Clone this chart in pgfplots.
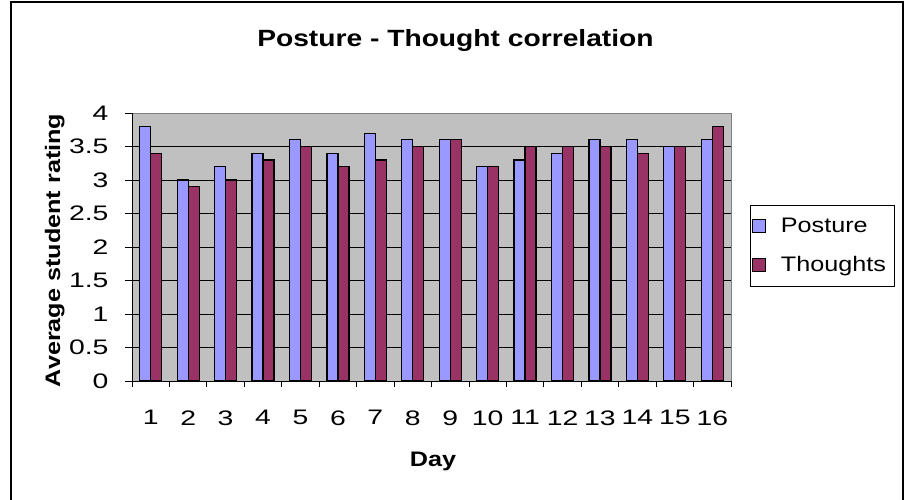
\documentclass[border=0pt]{standalone}
\usepackage{fontspec}
\setmainfont{Liberation Sans}[FakeStretch=1.2]
\newfontfamily\tickfont{Liberation Sans}[FakeStretch=1.35]
\usepackage{pgfplots}
\pgfplotsset{compat=1.18}
\definecolor{posture}{HTML}{9999FF}
\definecolor{thoughts}{HTML}{993366}
\definecolor{plotbg}{HTML}{C0C0C0}
\definecolor{bordergray}{HTML}{808080}
\pgfplotstableread{
day posture thoughts
1 3.8 3.4
2 3.0 2.9
3 3.2 3.0
4 3.4 3.3
5 3.6 3.5
6 3.4 3.2
7 3.7 3.3
8 3.6 3.5
9 3.6 3.6
10 3.2 3.2
11 3.3 3.5
12 3.4 3.5
13 3.6 3.5
14 3.6 3.4
15 3.5 3.5
16 3.6 3.8
}\datatable
\begin{document}
\begin{tikzpicture}
\useasboundingbox (0,0) rectangle (909bp,500bp);
\draw[line width=2bp] (11bp,-10bp) -- (11bp,497.5bp) -- (903bp,497.5bp) -- (903bp,-10bp);
\begin{axis}[
  at={(132bp,119bp)}, anchor=south west,
  scale only axis, width=599bp, height=268bp,
  xmin=0.5, xmax=16.5, ymin=0, ymax=4,
  ybar=0pt, bar width=11bp,
  xtick={1,...,16}, minor xtick={0.5,1.5,...,16.5},
  ytick={0,0.5,...,4},
  major x tick style={draw=none},
  tick align=outside, major tick length=7bp, minor tick length=6bp,
  tick style={black, line width=0.8bp},
  tick pos=left,
  ymajorgrids, grid style={black, line width=0.8bp},
  axis background/.style={fill=plotbg},
  axis line style={draw=none},
  clip=false,
  /pgf/number format/assume math mode=true,
  ticklabel style={font=\tickfont\fontsize{21bp}{25bp}\selectfont},
  xticklabel style={anchor=north, yshift=-19bp},
  yticklabel shift=13bp,
  title={Posture - Thought correlation},
  title style={at={(axis description cs:0.540,1.226)}, anchor=base, yshift=0pt, font=\bfseries\fontsize{23.5bp}{28bp}\selectfont},
  xlabel={Day},
  xlabel style={at={(axis description cs:0.5025,-0.320)}, anchor=base, font=\bfseries\fontsize{21bp}{25bp}\selectfont},
  ylabel={Average student rating},
  ylabel style={at={(axis description cs:-0.1202,0.487)}, anchor=base, font=\bfseries\fontsize{21bp}{25bp}\selectfont},
  legend style={at={(axis description cs:1.0317,0.657)}, anchor=north west, draw=black, line width=0.8bp, fill=white,
    font=\fontsize{21bp}{24bp}\selectfont, row sep=19bp, inner xsep=2bp, inner ysep=10.5bp,
    nodes={inner xsep=6bp}},
  legend cell align=left,
  legend image code/.code={\draw[#1, line width=1bp] (0bp,-6.5bp) rectangle (13bp,6.5bp); \path[draw=none, fill=none] (0bp,0bp) -- (22bp,0bp);},
]
\addplot[fill=posture, draw=black, line width=1.2bp] table[x=day, y=posture] {\datatable};
\addplot[fill=thoughts, draw=black, line width=1.2bp] table[x=day, y=thoughts] {\datatable};
\legend{Posture, Thoughts}
\draw[bordergray, line width=0.8bp] (rel axis cs:0,1) -- (rel axis cs:1,1) -- (rel axis cs:1,0);
\draw[black, line width=0.8bp] (rel axis cs:0,1) -- (rel axis cs:0,0) -- (rel axis cs:1,0);
\end{axis}
\end{tikzpicture}
\end{document}
